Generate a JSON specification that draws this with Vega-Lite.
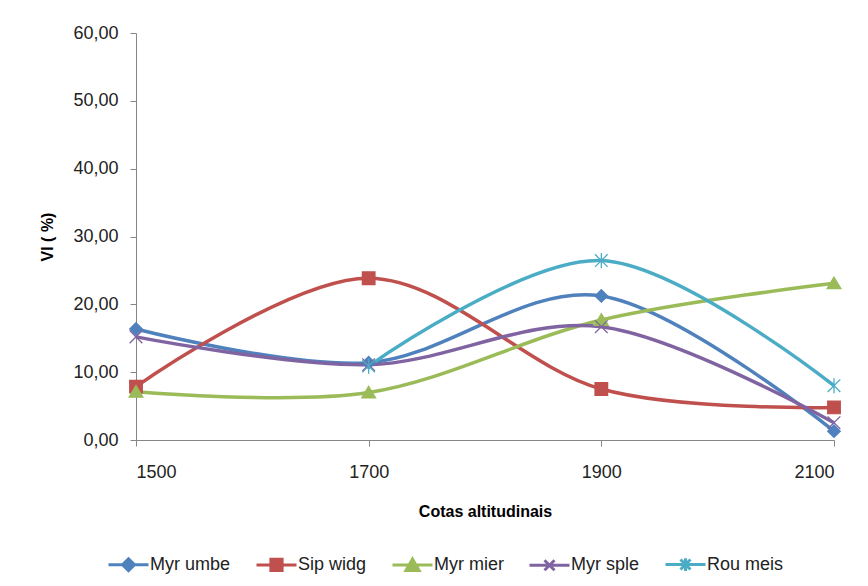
{
  "$schema": "https://vega.github.io/schema/vega-lite/v6.json",
  "width": 698,
  "height": 407,
  "autosize": "none",
  "padding": {"left": 136, "top": 33, "right": 34, "bottom": 146},
  "background": "white",
  "config": {
    "view": {"stroke": null},
    "font": "Liberation Sans",
    "axis": {
      "grid": false,
      "domainColor": "#868686",
      "tickColor": "#868686",
      "tickSize": 6,
      "labelColor": "#222222",
      "labelFontSize": 18,
      "labelFont": "Liberation Sans",
      "titleFont": "Liberation Sans",
      "titleFontSize": 16,
      "titleFontWeight": "bold",
      "titleColor": "#000000"
    }
  },
  "data": {
    "values": [
      {"cota": 1500, "vi": 16.36, "serie": "Myr umbe"},
      {"cota": 1700, "vi": 11.4, "serie": "Myr umbe"},
      {"cota": 1900, "vi": 21.24, "serie": "Myr umbe"},
      {"cota": 2100, "vi": 1.3, "serie": "Myr umbe"},
      {"cota": 1500, "vi": 7.86, "serie": "Sip widg"},
      {"cota": 1700, "vi": 23.85, "serie": "Sip widg"},
      {"cota": 1900, "vi": 7.52, "serie": "Sip widg"},
      {"cota": 2100, "vi": 4.8, "serie": "Sip widg"},
      {"cota": 1500, "vi": 7.1, "serie": "Myr mier"},
      {"cota": 1700, "vi": 7.0, "serie": "Myr mier"},
      {"cota": 1900, "vi": 17.7, "serie": "Myr mier"},
      {"cota": 2100, "vi": 23.1, "serie": "Myr mier"},
      {"cota": 1500, "vi": 15.2, "serie": "Myr sple"},
      {"cota": 1700, "vi": 11.1, "serie": "Myr sple"},
      {"cota": 1900, "vi": 16.7, "serie": "Myr sple"},
      {"cota": 2100, "vi": 2.55, "serie": "Myr sple"},
      {"cota": 1700, "vi": 10.9, "serie": "Rou meis"},
      {"cota": 1900, "vi": 26.45, "serie": "Rou meis"},
      {"cota": 2100, "vi": 8.0, "serie": "Rou meis"}
    ]
  },
  "encoding": {
    "x": {
      "field": "cota",
      "type": "quantitative",
      "scale": {"domain": [1500, 2100], "nice": false, "zero": false},
      "axis": {
        "values": [1500, 1700, 1900, 2100],
        "format": "d",
        "title": "Cotas altitudinais",
        "labelPadding": 17,
        "titlePadding": 22
      }
    },
    "y": {
      "field": "vi",
      "type": "quantitative",
      "scale": {"domain": [0, 60], "nice": false},
      "axis": {
        "values": [0, 10, 20, 30, 40, 50, 60],
        "labelExpr": "replace(format(datum.value, '.2f'), '.', ',')",
        "title": "VI ( %)",
        "labelPadding": 12,
        "titlePadding": 17
      }
    },
    "color": {
      "field": "serie",
      "type": "nominal",
      "scale": {
        "domain": ["Myr umbe", "Sip widg", "Myr mier", "Myr sple", "Rou meis"],
        "range": ["#4F81BD", "#C0504D", "#9BBB59", "#8064A2", "#4BACC6"]
      },
      "legend": {
        "title": null,
        "orient": "none",
        "direction": "horizontal",
        "legendX": -29,
        "legendY": 510,
        "symbolSize": 1600,
        "labelFontSize": 18,
        "labelColor": "#222222",
        "labelOffset": 0,
        "columnPadding": 19,
        "encode": {
          "symbols": {
            "update": {
              "shape": {
                "signal": "datum.value === 'Myr umbe' ? 'M-1,0H1M0,-0.3L0.3,0L0,0.3L-0.3,0Z' : datum.value === 'Sip widg' ? 'M-1,0H1M-0.28,-0.28H0.28V0.28H-0.28Z' : datum.value === 'Myr mier' ? 'M-1,0H1M0,-0.3L0.33,0.27H-0.33Z' : datum.value === 'Myr sple' ? 'M-1,0H1M-0.25,-0.25L0.25,0.25M-0.25,0.25L0.25,-0.25' : 'M-1,0H1M-0.25,-0.25L0.25,0.25M-0.25,0.25L0.25,-0.25M0,-0.32V0.32'"
              },
              "fill": {"signal": "scale('color', datum.value)"},
              "stroke": {"signal": "scale('color', datum.value)"},
              "strokeWidth": {"value": 3},
              "opacity": {"value": 1},
              "fillOpacity": {"value": 1},
              "strokeOpacity": {"value": 1}
            }
          }
        }
      }
    }
  },
  "layer": [
    {
      "mark": {"type": "line", "interpolate": "cardinal", "strokeWidth": 3.5}
    },
    {
      "transform": [{"filter": "datum.serie === 'Myr umbe'"}],
      "mark": {"type": "point", "filled": true, "size": 160, "shape": "M0,-1L1,0L0,1L-1,0Z", "stroke": "#4F81BD", "strokeWidth": 1.2, "opacity": 1}
    },
    {
      "transform": [{"filter": "datum.serie === 'Sip widg'"}],
      "mark": {"type": "point", "filled": true, "size": 160, "shape": "M-1,-1H1V1H-1Z", "stroke": "#C0504D", "strokeWidth": 1.2, "opacity": 1}
    },
    {
      "transform": [{"filter": "datum.serie === 'Myr mier'"}],
      "mark": {"type": "point", "filled": true, "size": 160, "shape": "M0,-1L1.1,0.85H-1.1Z", "stroke": "#9BBB59", "strokeWidth": 1.2, "opacity": 1}
    },
    {
      "transform": [{"filter": "datum.serie === 'Myr sple'"}],
      "mark": {"type": "point", "filled": true, "size": 160, "shape": "M-1,-1L1,1M-1,1L1,-1", "stroke": "#8064A2", "strokeWidth": 1.3, "opacity": 1}
    },
    {
      "transform": [{"filter": "datum.serie === 'Rou meis'"}],
      "mark": {"type": "point", "filled": true, "size": 160, "shape": "M-1,-1L1,1M-1,1L1,-1M0,-1.2V1.2", "stroke": "#4BACC6", "strokeWidth": 1.3, "opacity": 1}
    }
  ]
}
